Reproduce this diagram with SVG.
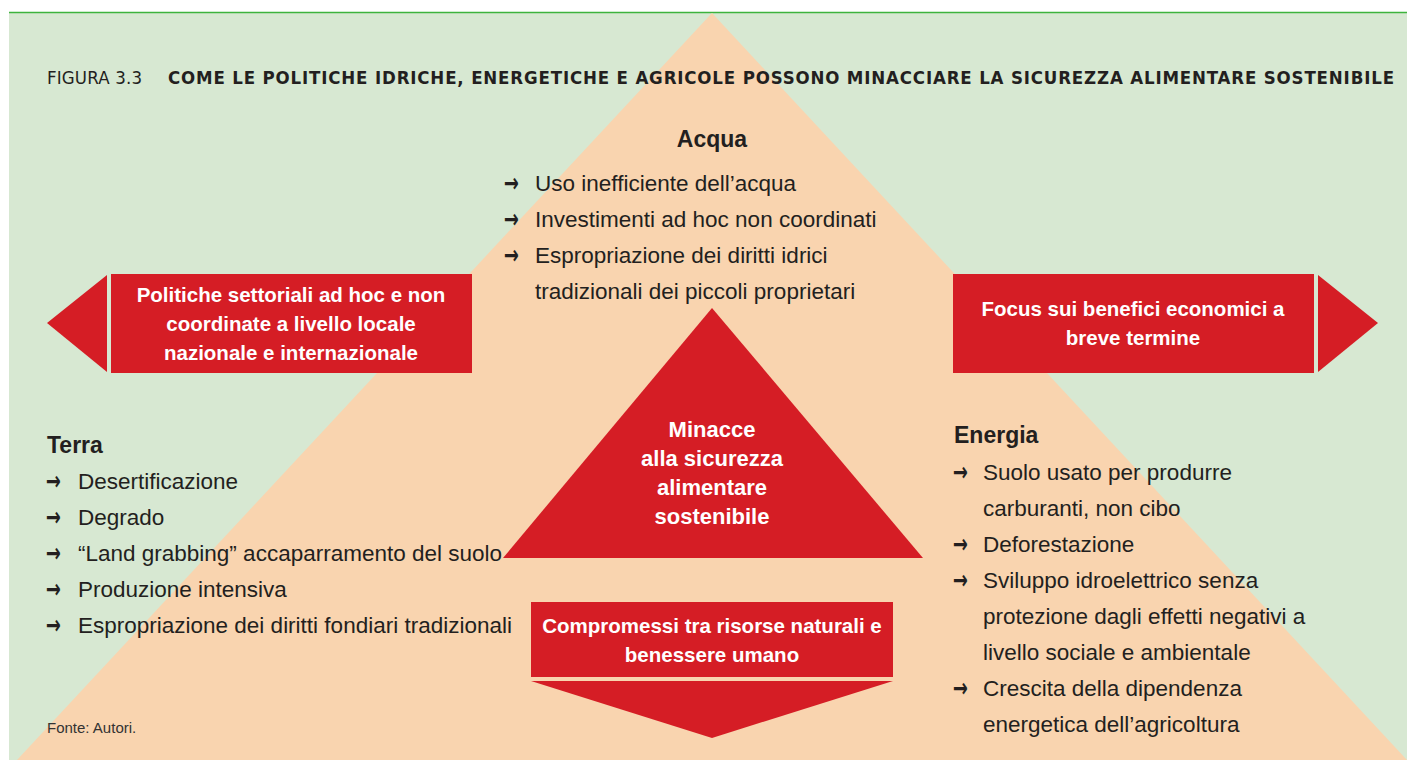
<svg xmlns="http://www.w3.org/2000/svg" width="1407" height="760" viewBox="0 0 1407 760">
<style>
.body{font-family:"Liberation Sans",Arial,sans-serif;font-size:22.5px;fill:#231f20}
.arr{font-family:"DejaVu Sans",sans-serif;font-size:26px;font-weight:bold;fill:#231f20}
.head{font-family:"Liberation Sans",Arial,sans-serif;font-size:23px;font-weight:bold;fill:#231f20}
.wt{font-family:"Liberation Sans",Arial,sans-serif;font-size:20.5px;font-weight:bold;fill:#ffffff;text-anchor:middle}
.wc{font-family:"Liberation Sans",Arial,sans-serif;font-size:22px;font-weight:bold;fill:#ffffff;text-anchor:middle}
.red{fill:#d51d25}
.ttl{font-family:"Liberation Sans Narrow","DejaVu Sans Condensed","Liberation Sans",sans-serif;font-size:18.5px;fill:#231f20}
</style>
<rect x="0" y="0" width="1407" height="760" fill="#ffffff"/>
<rect x="9" y="12" width="1398" height="748" fill="#d7e8d2"/>
<line x1="9" y1="12.5" x2="1407" y2="12.5" stroke="#3db33d" stroke-width="1.5"/>
<polygon points="712,13 17,760 1407,760" fill="#f9d4af"/>

<g id="title">
<text class="ttl" x="47" y="84" textLength="95" lengthAdjust="spacing">FIGURA 3.3</text>
<text class="ttl" x="168" y="84" font-weight="bold" textLength="1226" lengthAdjust="spacing">COME LE POLITICHE IDRICHE, ENERGETICHE E AGRICOLE POSSONO MINACCIARE LA SICUREZZA ALIMENTARE SOSTENIBILE</text>
</g>

<g id="connectors"></g>

<g id="acqua">
<text class="head" x="712" y="147" text-anchor="middle">Acqua</text>
<text class="arr" x="504" y="192" textLength="15" lengthAdjust="spacingAndGlyphs">→</text><text class="body" x="535" y="191">Uso inefficiente dell’acqua</text>
<text class="arr" x="504" y="228" textLength="15" lengthAdjust="spacingAndGlyphs">→</text><text class="body" x="535" y="227">Investimenti ad hoc non coordinati</text>
<text class="arr" x="504" y="264" textLength="15" lengthAdjust="spacingAndGlyphs">→</text><text class="body" x="535" y="263">Espropriazione dei diritti idrici</text>
<text class="body" x="535" y="299">tradizionali dei piccoli proprietari</text>
</g>

<g id="politiche">
<polygon class="red" points="47,323 107,275 107,372"/>
<rect class="red" x="111" y="274" width="361" height="99"/>
<text class="wt" x="291" y="302">Politiche settoriali ad hoc e non</text>
<text class="wt" x="291" y="331">coordinate a livello locale</text>
<text class="wt" x="291" y="360">nazionale e internazionale</text>
</g>

<g id="focus">
<rect class="red" x="953" y="274" width="361" height="99"/>
<polygon class="red" points="1318,275 1378,323 1318,372"/>
<text class="wt" x="1133" y="316">Focus sui benefici economici a</text>
<text class="wt" x="1133" y="345">breve termine</text>
</g>

<g id="minacce">
<polygon class="red" points="712,308 503,558 923,558"/>
<text class="wc" x="712" y="437">Minacce</text>
<text class="wc" x="712" y="466">alla sicurezza</text>
<text class="wc" x="712" y="495">alimentare</text>
<text class="wc" x="712" y="524">sostenibile</text>
</g>

<g id="terra">
<text class="head" x="47" y="453">Terra</text>
<text class="arr" x="46" y="490" textLength="15" lengthAdjust="spacingAndGlyphs">→</text><text class="body" x="78" y="489">Desertificazione</text>
<text class="arr" x="46" y="526" textLength="15" lengthAdjust="spacingAndGlyphs">→</text><text class="body" x="78" y="525">Degrado</text>
<text class="arr" x="46" y="562" textLength="15" lengthAdjust="spacingAndGlyphs">→</text><text class="body" x="78" y="561">“Land grabbing” accaparramento del suolo</text>
<text class="arr" x="46" y="598" textLength="15" lengthAdjust="spacingAndGlyphs">→</text><text class="body" x="78" y="597">Produzione intensiva</text>
<text class="arr" x="46" y="634" textLength="15" lengthAdjust="spacingAndGlyphs">→</text><text class="body" x="78" y="633">Espropriazione dei diritti fondiari tradizionali</text>
</g>

<g id="energia">
<text class="head" x="954" y="443">Energia</text>
<text class="arr" x="953" y="481" textLength="15" lengthAdjust="spacingAndGlyphs">→</text><text class="body" x="983" y="480">Suolo usato per produrre</text>
<text class="body" x="983" y="516">carburanti, non cibo</text>
<text class="arr" x="953" y="553" textLength="15" lengthAdjust="spacingAndGlyphs">→</text><text class="body" x="983" y="552">Deforestazione</text>
<text class="arr" x="953" y="589" textLength="15" lengthAdjust="spacingAndGlyphs">→</text><text class="body" x="983" y="588">Sviluppo idroelettrico senza</text>
<text class="body" x="983" y="624">protezione dagli effetti negativi a</text>
<text class="body" x="983" y="660">livello sociale e ambientale</text>
<text class="arr" x="953" y="697" textLength="15" lengthAdjust="spacingAndGlyphs">→</text><text class="body" x="983" y="696">Crescita della dipendenza</text>
<text class="body" x="983" y="732">energetica dell’agricoltura</text>
</g>

<g id="compromessi">
<rect class="red" x="531" y="602" width="362" height="75"/>
<polygon class="red" points="531,681 893,681 712,738"/>
<text class="wt" x="712" y="633">Compromessi tra risorse naturali e</text>
<text class="wt" x="712" y="662">benessere umano</text>
</g>

<g id="fonte">
<text class="body" x="47" y="733" style="font-size:15px;fill:#333333">Fonte: Autori.</text>
</g>
</svg>
